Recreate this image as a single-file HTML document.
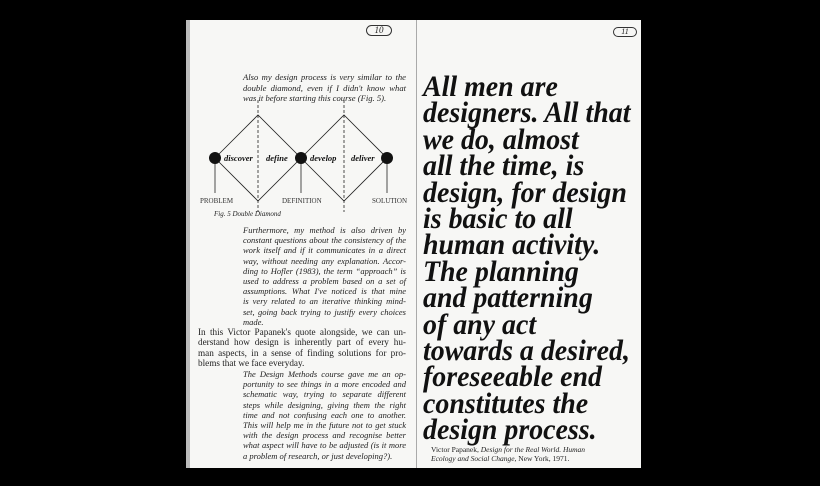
<!DOCTYPE html>
<html><head><meta charset="utf-8"><style>
body{margin:0;width:820px;height:486px;background:#000;overflow:hidden;position:relative;font-family:"Liberation Serif",serif}
.pg{position:absolute;background:#f7f7f5}
.it{font-style:italic}
.l{position:absolute;white-space:nowrap;color:#222}
.p div{text-align:justify;text-align-last:justify;white-space:normal;height:1lh;overflow:visible}
.p div.e{text-align-last:left}
.big{position:absolute;left:423px;font-weight:bold;font-style:italic;font-size:30px;color:#111;white-space:nowrap;line-height:26.4px;transform:scaleX(0.93);transform-origin:0 0}
</style></head><body>
<div class="pg" style="left:186px;top:20px;width:229px;height:448px;border-left:4px solid #bbb"></div>
<div class="pg" style="left:416px;top:20px;width:224px;height:448px;border-left:1px solid #aaa"></div>
<div class="l" style="left:366px;top:25px;width:24px;height:9px;border:1px solid #333;border-radius:6px;font-size:9px;text-align:center;line-height:9px;font-style:italic">10</div>
<div class="l" style="left:613px;top:27px;width:22px;height:8px;border:1px solid #333;border-radius:6px;font-size:8px;text-align:center;line-height:8px;font-style:italic">11</div>
<div class="l it p" style="left:243px;top:72px;font-size:8.6px;line-height:10.6px;width:163px">
<div>Also my design process is very similar to the</div><div>double diamond, even if I didn't know what</div><div class="e">was it before starting this course (Fig. 5).</div></div>
<svg style="position:absolute;left:186px;top:100px" width="229" height="115">
<g stroke="#222" fill="none" stroke-width="0.8">
<path d="M29 58 L72 15 L115 58 L72 101 Z"/><path d="M115 58 L158 15 L201 58 L158 101 Z"/>
<line x1="72" y1="0" x2="72" y2="112" stroke-dasharray="3,2"/><line x1="158" y1="0" x2="158" y2="112" stroke-dasharray="3,2"/>
<line x1="29" y1="58" x2="29" y2="93"/><line x1="115" y1="58" x2="115" y2="93"/><line x1="201" y1="58" x2="201" y2="93"/>
</g>
<g fill="#111"><circle cx="29" cy="58" r="6"/><circle cx="115" cy="58" r="6"/><circle cx="201" cy="58" r="6"/></g>
<g font-family="Liberation Serif" font-style="italic" font-weight="bold" font-size="8.5" fill="#111">
<text x="38" y="61">discover</text><text x="80" y="61">define</text><text x="124" y="61">develop</text><text x="165" y="61">deliver</text></g>
<g font-family="Liberation Serif" font-size="7" fill="#333"><text x="14" y="103">PROBLEM</text><text x="96" y="103">DEFINITION</text><text x="186" y="103">SOLUTION</text></g>
</svg>
<div class="l it" style="left:214px;top:210px;font-size:7px">Fig. 5 Double Diamond</div>
<div class="l it p" style="left:243px;top:225px;font-size:8.5px;line-height:10.2px;width:163px">
<div>Furthermore, my method is also driven by</div><div>constant questions about the consistency of the</div><div>work itself and if it communicates in a direct</div><div>way, without needing any explanation. Accor-</div><div>ding to Hofler (1983), the term “approach” is</div><div>used to address a problem based on a set of</div><div>assumptions. What I've noticed is that mine</div><div>is very related to an iterative thinking mind-</div><div>set, going back trying to justify every choices</div><div class="e">made.</div></div>
<div class="l p" style="left:198px;top:327px;font-size:9.2px;line-height:10.3px;width:208px">
<div>In this Victor Papanek's quote alongside, we can un-</div><div>derstand how design is inherently part of every hu-</div><div>man aspects, in a sense of finding solutions for pro-</div><div class="e">blems that we face everyday.</div></div>
<div class="l it p" style="left:243px;top:369px;font-size:8.5px;line-height:10.2px;width:163px">
<div>The Design Methods course gave me an op-</div><div>portunity to see things in a more encoded and</div><div>schematic way, trying to separate different</div><div>steps while designing, giving them the right</div><div>time and not confusing each one to another.</div><div>This will help me in the future not to get stuck</div><div>with the design process and recognise better</div><div>what aspect will have to be adjusted (is it more</div><div class="e">a problem of research, or just developing?).</div></div>
<div class="big" style="top:74px">All men are<br>designers. All that<br>we do, almost<br>all the time, is<br>design, for design<br>is basic to all<br>human activity.<br>The planning<br>and patterning<br>of any act<br>towards a desired,<br>foreseeable end<br>constitutes the<br>design process.</div>
<div class="l" style="left:431px;top:446px;font-size:7.5px;line-height:8.5px">Victor Papanek, <i>Design for the Real World. Human<br>Ecology and Social Change</i>, New York, 1971.</div>
</body></html>
